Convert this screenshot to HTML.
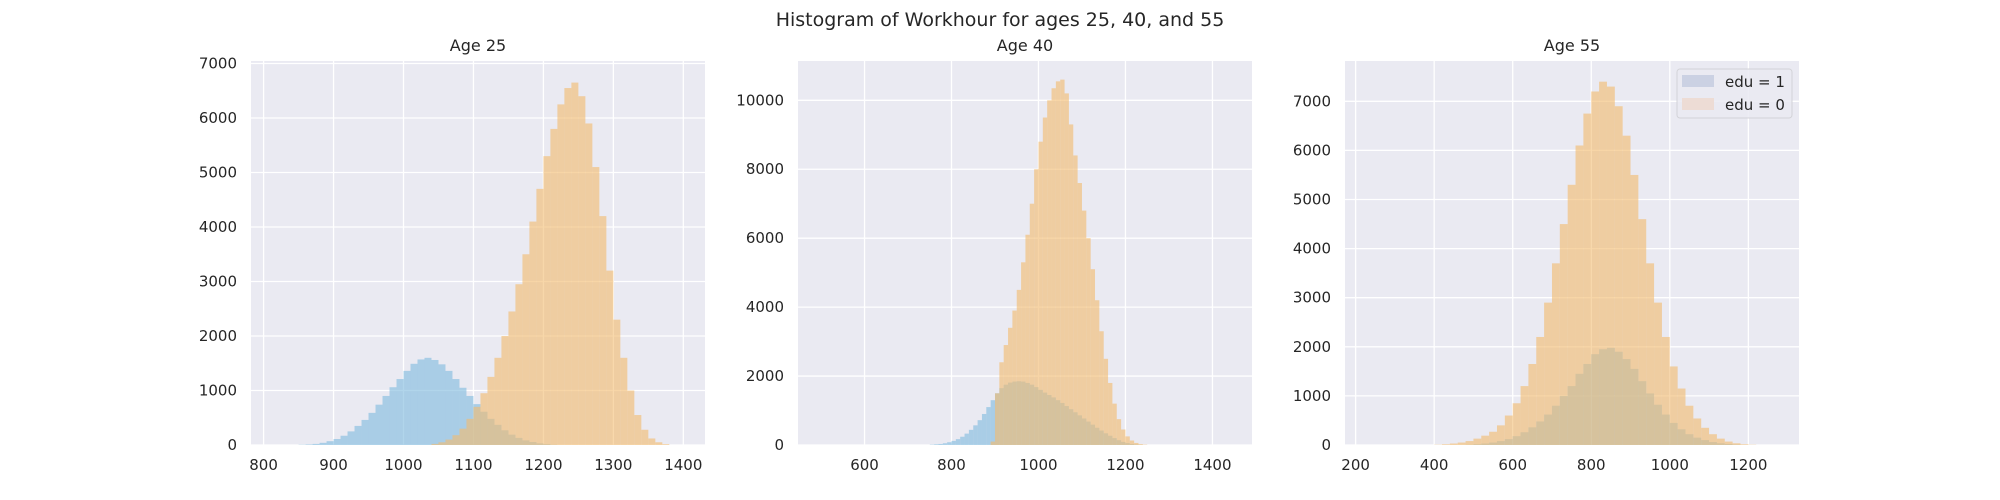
<!DOCTYPE html>
<html><head><meta charset="utf-8">
<style>
html,body{margin:0;padding:0;background:#fff;}
svg{display:block;font-family:"DejaVu Sans","Liberation Sans",sans-serif;}
</style></head>
<body>
<svg id="chart" width="2000" height="500" viewBox="0 0 2000 500">
<text x="1000" y="26" text-anchor="middle" font-size="19" fill="#262626">Histogram of Workhour for ages 25, 40, and 55</text>
</svg>
<script>
// Panel 1: Age 25 (bin width 10)
const p1BlueBins = [850,860,870,880,890,900,910,920,930,940,950,960,970,980,990,1000,1010,1020,1030,1040,1050,1060,1070,1080,1090,1100,1110,1120,1130,1140,1150,1160,1170,1180,1190,1200,1210];
const p1BlueCounts = [5,10,20,40,70,110,170,250,350,460,590,740,900,1060,1210,1360,1490,1570,1600,1560,1480,1360,1210,1050,900,750,610,480,370,270,190,130,85,55,30,15,5];
const p1OrangeBins = [1040,1050,1060,1070,1080,1090,1100,1110,1120,1130,1140,1150,1160,1170,1180,1190,1200,1210,1220,1230,1240,1250,1260,1270,1280,1290,1300,1310,1320,1330,1340,1350,1360,1370];
const p1OrangeCounts = [20,50,100,180,300,480,700,950,1250,1600,2000,2450,2950,3500,4100,4700,5300,5800,6250,6550,6650,6400,5900,5100,4200,3200,2300,1600,1000,550,280,120,50,15];
const p1XTicks = [800,900,1000,1100,1200,1300,1400];
const p1YTicks = [0,1000,2000,3000,4000,5000,6000,7000];

// Panel 2: Age 40 (bin width 10)
const p2BlueBins = [750,760,770,780,790,800,810,820,830,840,850,860,870,880,890,900,910,920,930,940,950,960,970,980,990,1000,1010,1020,1030,1040,1050,1060,1070,1080,1090,1100,1110,1120,1130,1140,1150,1160,1170,1180,1190,1200,1210,1220,1230];
const p2BlueCounts = [10,20,30,50,80,120,170,240,330,440,570,720,900,1100,1300,1500,1650,1750,1810,1840,1850,1840,1800,1750,1680,1600,1520,1450,1380,1300,1220,1130,1040,950,860,770,680,590,500,420,340,270,200,140,90,55,30,15,5];
const p2OrangeBins = [890,900,910,920,930,940,950,960,970,980,990,1000,1010,1020,1030,1040,1050,1060,1070,1080,1090,1100,1110,1120,1130,1140,1150,1160,1170,1180,1190,1200,1210,1220,1230,1240];
const p2OrangeCounts = [100,1500,2400,2900,3400,3900,4500,5300,6100,7000,8000,8800,9500,10000,10350,10550,10600,10200,9300,8400,7600,6800,6000,5100,4200,3300,2500,1800,1200,750,450,250,130,60,25,10];
const p2XTicks = [600,800,1000,1200,1400];
const p2YTicks = [0,2000,4000,6000,8000,10000];

// Panel 3: Age 55 (bin width 20)
const p3BlueBins = [480,500,520,540,560,580,600,620,640,660,680,700,720,740,760,780,800,820,840,860,880,900,920,940,960,980,1000,1020,1040,1060,1080,1100,1120,1140,1160];
const p3BlueCounts = [5,15,30,50,80,120,180,260,360,480,620,800,1000,1200,1450,1650,1850,1950,1980,1900,1750,1550,1300,1050,820,620,450,320,220,150,100,60,35,20,8];
const p3OrangeBins = [400,420,440,460,480,500,520,540,560,580,600,620,640,660,680,700,720,740,760,780,800,820,840,860,880,900,920,940,960,980,1000,1020,1040,1060,1080,1100,1120,1140,1160,1180,1200];
const p3OrangeCounts = [5,15,30,50,80,130,190,270,400,600,850,1200,1650,2200,2900,3700,4500,5300,6100,6750,7200,7400,7300,6900,6300,5500,4600,3700,2900,2200,1600,1150,800,540,350,220,130,70,35,15,5];
const p3XTicks = [200,400,600,800,1000,1200];
const p3YTicks = [0,1000,2000,3000,4000,5000,6000,7000];

const legendLabels = ["edu = 1","edu = 0"];

const NS = "http://www.w3.org/2000/svg";
const svg = document.getElementById("chart");
function mk(tag, attrs, parent){
  const e = document.createElementNS(NS, tag);
  for (const k in attrs) e.setAttribute(k, attrs[k]);
  (parent||svg).appendChild(e);
  return e;
}

const BLUE = "rgba(125,185,222,0.6)";
const ORANGE = "rgba(242,188,112,0.62)";

function panel(cfg){
  const g = mk("g", {});
  
  
  const L=cfg.x0, R=cfg.x1, T=61, B=445;
  const xs = v => L + (v - cfg.xmin) / (cfg.xmax - cfg.xmin) * (R - L);
  const ys = v => B - v / cfg.ymax * (B - T);
  const bg = mk("rect", {x:L, y:T, width:R-L, height:B-T, fill:"#eaeaf2"}, g);
  
  
  cfg.xt.forEach(v => {
    const ln = mk("line", {x1:xs(v), x2:xs(v), y1:T, y2:B, stroke:"#fff", "stroke-width":1.3}, g);
    
    
    const t = mk("text", {x:xs(v), y:470, "text-anchor":"middle", "font-size":15, fill:"#262626"}, g);
    t.textContent = v;
    
    
  });
  cfg.yt.forEach(v => {
    const ln = mk("line", {x1:L, x2:R, y1:ys(v), y2:ys(v), stroke:"#fff", "stroke-width":1.3}, g);
    
    
    const t = mk("text", {x:L-14, y:ys(v)+5, "text-anchor":"end", "font-size":15, fill:"#262626"}, g);
    t.textContent = v;
    
    
  });
  function bars(bins, counts, w, color, nm){
    bins.forEach((b,i) => {
      const x = xs(b), x2 = xs(b + w);
      const r = mk("rect", {x:x, y:ys(counts[i]), width:x2-x, height:B-ys(counts[i]), fill:color}, g);
      
      
    });
  }
  bars(cfg.bb, cfg.bc, cfg.w, BLUE, 'bar-edu-1');
  bars(cfg.ob, cfg.oc, cfg.w, ORANGE, 'bar-edu-0');
  const tt = mk("text", {x:(L+R)/2, y:51, "text-anchor":"middle", "font-size":16, fill:"#262626"}, g);
  tt.textContent = cfg.title;
  
  
}

panel({name:"panel-age-25", title:"Age 25", x0:251, x1:705, xmin:782, xmax:1431, ymax:7046, w:10,
  xt:p1XTicks, yt:p1YTicks, bb:p1BlueBins, bc:p1BlueCounts, ob:p1OrangeBins, oc:p1OrangeCounts});
panel({name:"panel-age-40", title:"Age 40", x0:798, x1:1252, xmin:447, xmax:1491, ymax:11140, w:10,
  xt:p2XTicks, yt:p2YTicks, bb:p2BlueBins, bc:p2BlueCounts, ob:p2OrangeBins, oc:p2OrangeCounts});
panel({name:"panel-age-55", title:"Age 55", x0:1345, x1:1799, xmin:173, xmax:1329, ymax:7821, w:20,
  xt:p3XTicks, yt:p3YTicks, bb:p3BlueBins, bc:p3BlueCounts, ob:p3OrangeBins, oc:p3OrangeCounts});

// Legend
const lg = mk("g", {});


mk("rect", {x:1677, y:69, width:115, height:49, rx:3, fill:"rgba(234,234,242,0.85)", stroke:"#d3d3d8", "stroke-width":1}, lg);
const legendColors = ["#cbd1e3","#eddcd5"];
legendLabels.forEach((lab,i) => {
  const e = mk("g", {}, lg);
  
  
  mk("rect", {x:1682, y:75+i*23, width:32, height:12, fill:legendColors[i]}, e);
  const t = mk("text", {x:1725, y:87+i*23, "font-size":15, fill:"#262626"}, e);
  t.textContent = lab;
});
</script>
</body></html>
